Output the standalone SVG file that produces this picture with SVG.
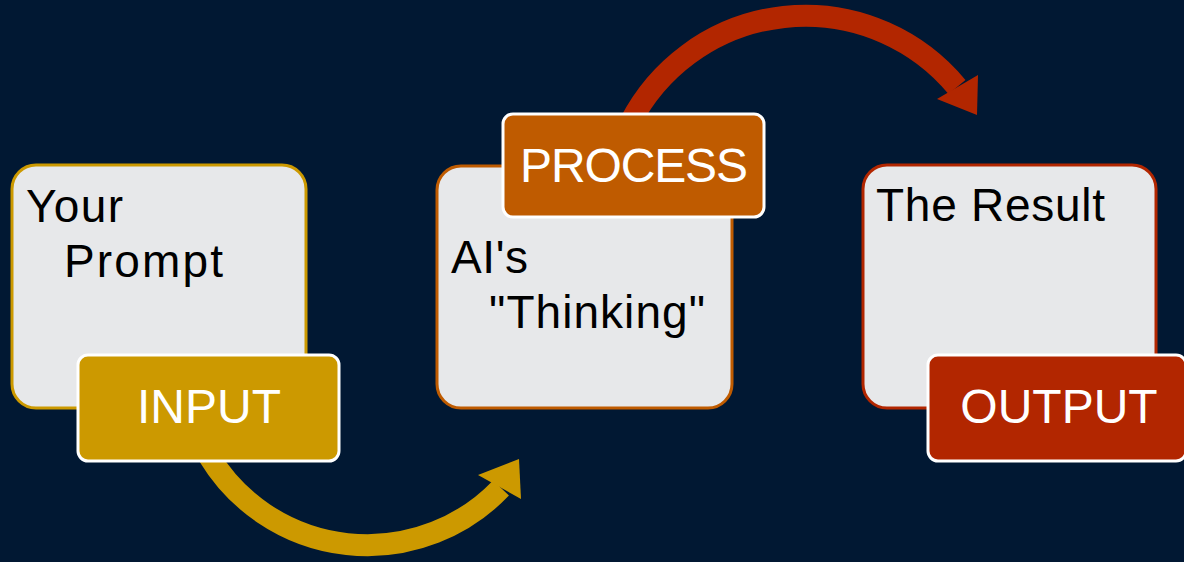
<svg xmlns="http://www.w3.org/2000/svg" width="1184" height="562" viewBox="0 0 1184 562">
<style>
.card{fill:#E7E8EA;stroke-width:3}
.tag{stroke:#FFFFFF;stroke-width:3}
.body{font-family:"Liberation Sans",Arial,sans-serif;font-size:46px;fill:#000000}
.lbl{font-family:"Liberation Sans",Arial,sans-serif;font-size:48px;fill:#FFFFFF;text-anchor:middle}
.shaft{fill:none;stroke-width:22}
</style>
<rect width="1184" height="562" fill="#011833"/>
<g id="connectors">
<path class="shaft" stroke="#CC9900" d="M 209 456 A 185 185 0 0 0 501 488"/>
<polygon fill="#CC9900" points="519,459 478,475 521,499"/>
<path class="shaft" stroke="#B22600" d="M 630 123 A 197 197 0 0 1 957 87"/>
<polygon fill="#B22600" points="977,115 978,75 937,99"/>
</g>
<g id="node-input">
<rect class="card" x="12" y="165" width="294" height="243" rx="24" stroke="#CC9900"/>
<text class="body" x="26" y="222" textLength="97">Your</text>
<text class="body" x="64" y="277" textLength="159">Prompt</text>
<rect class="tag" x="78" y="355" width="261" height="106" rx="10" fill="#CC9900"/>
<text class="lbl" x="209" y="423">INPUT</text>
</g>
<g id="node-process">
<rect class="card" x="437" y="166" width="295" height="242" rx="24" stroke="#BF5B00"/>
<text class="body" x="451" y="273" textLength="77">AI's</text>
<text class="body" x="489" y="328" textLength="216">"Thinking"</text>
<rect class="tag" x="503" y="114" width="261" height="103" rx="10" fill="#BF5B00"/>
<text class="lbl" x="634" y="182" textLength="228">PROCESS</text>
</g>
<g id="node-output">
<rect class="card" x="863" y="165" width="293" height="243" rx="24" stroke="#B22600"/>
<text class="body" x="876" y="221" textLength="229">The Result</text>
<rect class="tag" x="928" y="355" width="258" height="106" rx="10" fill="#B22600"/>
<text class="lbl" x="1059" y="423">OUTPUT</text>
</g>
</svg>
